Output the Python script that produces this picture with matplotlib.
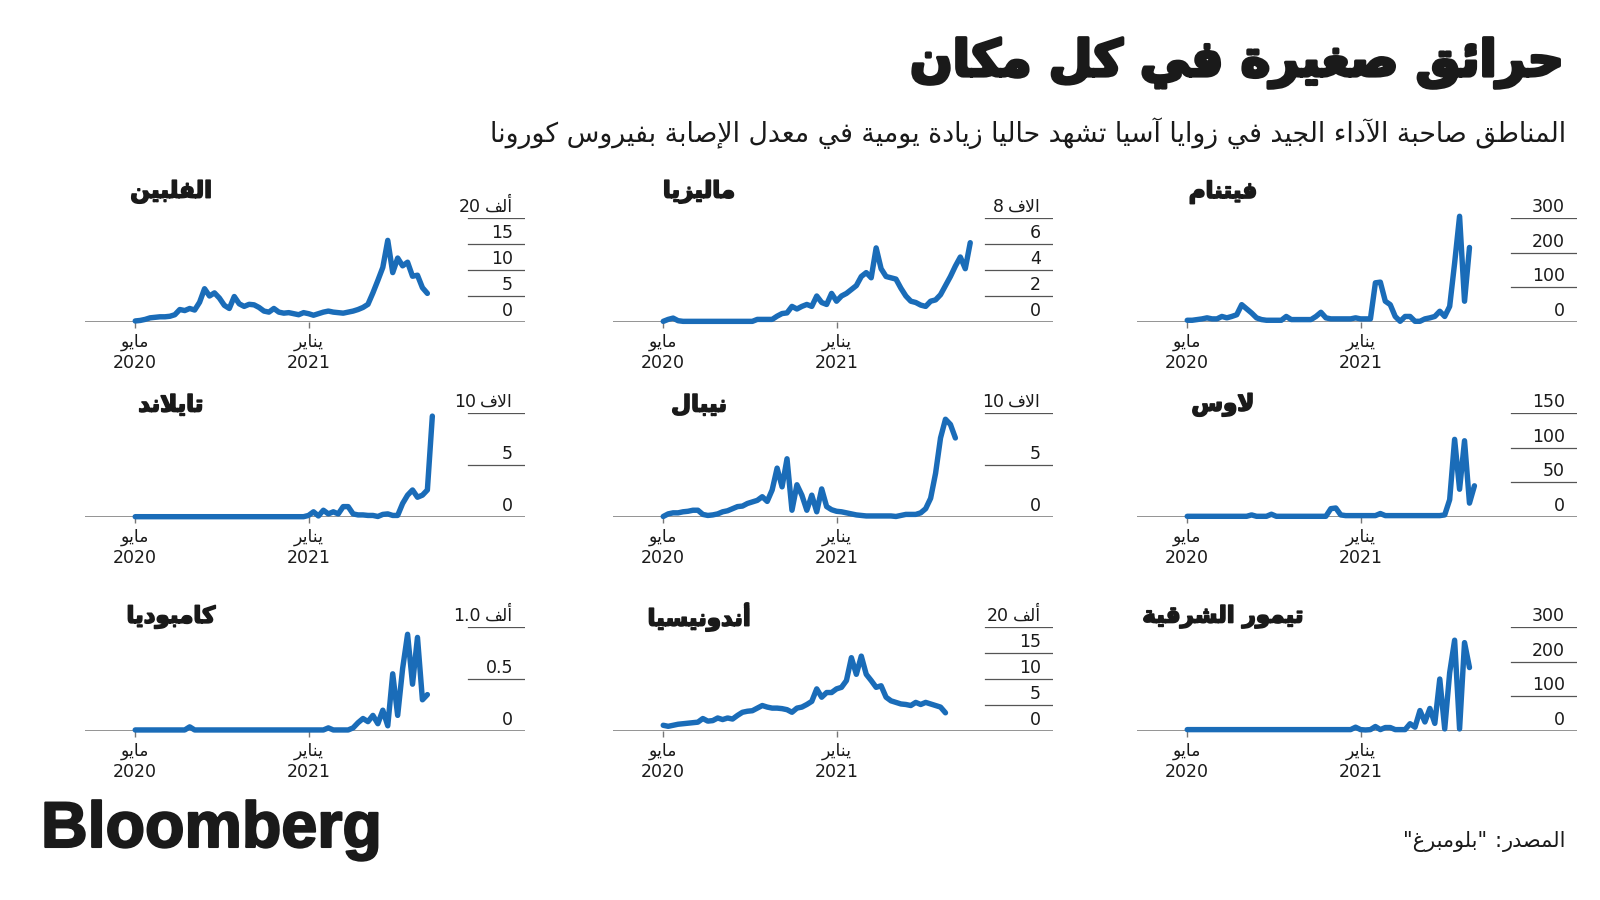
import numpy as np
import matplotlib
matplotlib.use('Agg')
import matplotlib.pyplot as plt
import matplotlib.dates as mdates
import matplotlib.transforms as mtransforms
import matplotlib.patheffects as pe
from matplotlib.text import Annotation

plt.rcParams['font.family'] = ['DejaVu Sans']

# region arabic shaping
# matplotlib has no text shaping, so letters are mapped to presentation forms
# and flipped to visual (left to right) order by hand.
AR_FORMS = {
    'ء': (0xFE80, 1), 'آ': (0xFE81, 2), 'أ': (0xFE83, 2), 'ؤ': (0xFE85, 2),
    'إ': (0xFE87, 2), 'ئ': (0xFE89, 4), 'ا': (0xFE8D, 2), 'ب': (0xFE8F, 4),
    'ة': (0xFE93, 2), 'ت': (0xFE95, 4), 'ث': (0xFE99, 4), 'ج': (0xFE9D, 4),
    'ح': (0xFEA1, 4), 'خ': (0xFEA5, 4), 'د': (0xFEA9, 2), 'ذ': (0xFEAB, 2),
    'ر': (0xFEAD, 2), 'ز': (0xFEAF, 2), 'س': (0xFEB1, 4), 'ش': (0xFEB5, 4),
    'ص': (0xFEB9, 4), 'ض': (0xFEBD, 4), 'ط': (0xFEC1, 4), 'ظ': (0xFEC5, 4),
    'ع': (0xFEC9, 4), 'غ': (0xFECD, 4), 'ف': (0xFED1, 4), 'ق': (0xFED5, 4),
    'ك': (0xFED9, 4), 'ل': (0xFEDD, 4), 'م': (0xFEE1, 4), 'ن': (0xFEE5, 4),
    'ه': (0xFEE9, 4), 'و': (0xFEED, 2), 'ى': (0xFEEF, 2), 'ي': (0xFEF1, 4),
}
LAM_ALEF = {'آ': 0xFEF5, 'أ': 0xFEF7, 'إ': 0xFEF9, 'ا': 0xFEFB}


def ar(text):
    def dual(ch):
        return ch in AR_FORMS and AR_FORMS[ch][1] == 4

    def joins_prev(ch):
        return ch in AR_FORMS and AR_FORMS[ch][1] >= 2

    out = []
    prev = None
    i, n = 0, len(text)
    while i < n:
        ch = text[i]
        if ch not in AR_FORMS:
            out.append(ch)
            prev = None
            i += 1
            continue
        link_prev = prev is not None and dual(prev)
        if ch == 'ل' and i + 1 < n and text[i + 1] in LAM_ALEF:
            out.append(chr(LAM_ALEF[text[i + 1]] + (1 if link_prev else 0)))
            prev = text[i + 1]
            i += 2
            continue
        base, nforms = AR_FORMS[ch]
        link_next = dual(ch) and i + 1 < n and joins_prev(text[i + 1])
        if nforms == 1:
            code = base
        elif nforms == 2:
            code = base + (1 if link_prev else 0)
        elif link_prev and link_next:
            code = base + 3
        elif link_prev:
            code = base + 1
        elif link_next:
            code = base + 2
        else:
            code = base
        out.append(chr(code))
        prev = ch
        i += 1
    return ''.join(reversed(out))
# endregion

# region data (weekly readings starting 1 May 2020)
philippines = [0.2, 0.3, 0.5, 0.8, 0.9, 1.0, 1.0, 1.1, 1.4, 2.4,
               2.2, 2.6, 2.3, 3.8, 6.4, 5.0, 5.6, 4.6, 3.2, 2.6,
               4.9, 3.5, 3.0, 3.4, 3.3, 2.8, 2.1, 1.9, 2.6, 1.9,
               1.7, 1.8, 1.6, 1.4, 1.8, 1.6, 1.3, 1.6, 1.9, 2.1,
               1.9, 1.8, 1.7, 1.9, 2.1, 2.4, 2.8, 3.4, 5.6, 8.0,
               10.5, 15.7, 9.5, 12.3, 10.8, 11.5, 8.8, 9.0, 6.6, 5.5]
malaysia = [0.05, 0.2, 0.3, 0.1, 0.05, 0.05, 0.05, 0.05, 0.05, 0.05,
            0.05, 0.05, 0.05, 0.05, 0.05, 0.05, 0.05, 0.05, 0.05, 0.2,
            0.2, 0.2, 0.2, 0.45, 0.65, 0.7, 1.2, 1.0, 1.2, 1.35,
            1.2, 2.0, 1.5, 1.35, 2.2, 1.6, 2.0, 2.2, 2.5, 2.8,
            3.5, 3.8, 3.4, 5.7, 4.1, 3.5, 3.4, 3.3, 2.6, 2.0,
            1.6, 1.5, 1.3, 1.2, 1.6, 1.7, 2.1, 2.8, 3.5, 4.3,
            5.0, 4.1, 6.1]
vietnam = [5, 5, 7, 9, 12, 9, 9, 16, 12, 16,
           21, 50, 38, 26, 12, 7, 5, 5, 5, 5,
           16, 7, 7, 7, 7, 7, 16, 28, 12, 9,
           9, 9, 9, 9, 12, 9, 9, 9, 113, 115,
           60, 50, 16, 2, 16, 16, 2, 2, 9, 12,
           16, 31, 16, 45, 170, 305, 60, 215]
thailand = [0.03, 0.03, 0.03, 0.03, 0.03, 0.03, 0.03, 0.03, 0.03, 0.03,
            0.03, 0.03, 0.03, 0.03, 0.03, 0.03, 0.03, 0.03, 0.03, 0.03,
            0.03, 0.03, 0.03, 0.03, 0.03, 0.03, 0.03, 0.03, 0.03, 0.03,
            0.03, 0.03, 0.03, 0.03, 0.03, 0.15, 0.5, 0.1, 0.65, 0.3,
            0.5, 0.3, 1.0, 1.0, 0.3, 0.2, 0.2, 0.15, 0.15, 0.05,
            0.25, 0.3, 0.15, 0.15, 1.3, 2.1, 2.6, 1.9, 2.1, 2.6,
            9.7]
nepal = [0.05, 0.3, 0.4, 0.4, 0.5, 0.55, 0.65, 0.65, 0.25, 0.15,
         0.2, 0.3, 0.5, 0.6, 0.8, 1.0, 1.05, 1.3, 1.45, 1.6,
         1.95, 1.5, 2.6, 4.7, 2.9, 5.6, 0.65, 3.1, 2.1, 0.65,
         2.1, 0.5, 2.7, 1.0, 0.7, 0.55, 0.5, 0.4, 0.3, 0.2,
         0.15, 0.1, 0.1, 0.1, 0.1, 0.1, 0.1, 0.05, 0.15, 0.25,
         0.25, 0.25, 0.4, 0.8, 1.8, 4.2, 7.6, 9.4, 8.9, 7.6]
laos = [1, 1, 1, 1, 1, 1, 1, 1, 1, 1,
        1, 1, 1, 3, 1, 1, 1, 4, 1, 1,
        1, 1, 1, 1, 1, 1, 1, 1, 1, 12,
        13, 3, 2, 2, 2, 2, 2, 2, 2, 5,
        2, 2, 2, 2, 2, 2, 2, 2, 2, 2,
        2, 2, 3, 25, 112, 40, 110, 20, 45]
cambodia = [0.01, 0.01, 0.01, 0.01, 0.01, 0.01, 0.01, 0.01, 0.01, 0.01,
            0.01, 0.04, 0.01, 0.01, 0.01, 0.01, 0.01, 0.01, 0.01, 0.01,
            0.01, 0.01, 0.01, 0.01, 0.01, 0.01, 0.01, 0.01, 0.01, 0.01,
            0.01, 0.01, 0.01, 0.01, 0.01, 0.01, 0.01, 0.01, 0.01, 0.03,
            0.01, 0.01, 0.01, 0.01, 0.03, 0.08, 0.12, 0.09, 0.15, 0.07,
            0.2, 0.05, 0.55, 0.15, 0.6, 0.93, 0.45, 0.9, 0.3, 0.35]
indonesia = [1.1, 0.9, 1.1, 1.3, 1.4, 1.5, 1.6, 1.7, 2.4, 1.9,
             2.0, 2.5, 2.2, 2.5, 2.3, 3.0, 3.6, 3.8, 3.9, 4.4,
             4.9, 4.6, 4.4, 4.4, 4.3, 4.1, 3.6, 4.4, 4.6, 5.1,
             5.7, 8.1, 6.5, 7.4, 7.4, 8.1, 8.4, 9.7, 14.1, 10.9,
             14.4, 10.9, 9.7, 8.4, 8.7, 6.5, 5.8, 5.5, 5.2, 5.1,
             4.9, 5.5, 5.1, 5.5, 5.2, 4.9, 4.6, 3.5]
timor = [4, 4, 4, 4, 4, 4, 4, 4, 4, 4,
         4, 4, 4, 4, 4, 4, 4, 4, 4, 4,
         4, 4, 4, 4, 4, 4, 4, 4, 4, 4,
         4, 4, 4, 4, 11, 4, 3, 4, 13, 4,
         10, 10, 4, 4, 4, 21, 11, 59, 26, 65,
         22, 150, 6, 168, 262, 6, 255, 183]

series = [philippines, malaysia, vietnam, thailand, nepal, laos,
          cambodia, indonesia, timor]
names = ['الفلبين', 'ماليزيا', 'فيتنام', 'تايلاند', 'نيبال', 'لاوس',
         'كامبوديا', 'أندونيسيا', 'تيمور الشرقية']
yticks = [[0, 5, 10, 15, 20], [0, 2, 4, 6, 8], [0, 100, 200, 300],
          [0, 5, 10], [0, 5, 10], [0, 50, 100, 150],
          [0, 0.5, 1.0], [0, 5, 10, 15, 20], [0, 100, 200, 300]]
ytick_labels = [['0', '5', '10', '15', '20'], ['0', '2', '4', '6', '8'],
                ['0', '100', '200', '300'], ['0', '5', '10'], ['0', '5', '10'],
                ['0', '50', '100', '150'], ['0', '0.5', '1.0'],
                ['0', '5', '10', '15', '20'], ['0', '100', '200', '300']]
top_units = ['ألف', 'الاف', '', 'الاف', 'الاف', '', 'ألف', 'ألف', '']

title = 'حرائق صغيرة في كل مكان'
subtitle = 'المناطق صاحبة الآداء الجيد في زوايا آسيا تشهد حاليا زيادة يومية في معدل الإصابة بفيروس كورونا'
source_word = 'المصدر'
source_name = 'بلومبرغ'
months = ['مايو', 'يناير']
years = ['2020', '2021']
# endregion

BLUE = '#1a6cb8'
INK = '#1a1a1a'
W, H = 1600, 900

col_left = [85, 613, 1137]
row_base = [322, 517, 731]
title_y = [192, 405, 617]
ax_w, ax_h = 440, 104
grid_start = [0.87, 0.846, 0.85]

start = np.datetime64('2020-05-01')
xlim = mdates.date2num([np.datetime64('2020-02-20'), np.datetime64('2021-11-03')])
xticks = mdates.date2num([np.datetime64('2020-05-01'), np.datetime64('2021-01-01')])
xtick_labels = [ar(m) + '\n' + y for m, y in zip(months, years)]

heavy = [pe.withStroke(linewidth=1.2, foreground=INK)]

fig = plt.figure(figsize=(16, 9), dpi=100)

for i, vals in enumerate(series):
    r, c = divmod(i, 3)
    ax = fig.add_axes([col_left[c] / W, 1 - row_base[r] / H, ax_w / W, ax_h / H])
    dates = mdates.date2num(start + np.arange(len(vals)) * 7)
    ax.plot(dates, vals, color=BLUE, lw=3.9, solid_joinstyle='round',
            solid_capstyle='round', clip_on=False, zorder=3)
    ax.set_xlim(*xlim)
    ax.set_ylim(0, yticks[i][-1])
    for s in ax.spines.values():
        s.set_visible(False)
    ax.axhline(0, color='#777777', lw=1.1, zorder=1)
    for v in yticks[i][1:]:
        ax.axhline(v, xmin=grid_start[c], xmax=1, color='#555555', lw=0.9, zorder=1)
    ax.set_yticks([])
    lab_tr = mtransforms.offset_copy(ax.get_yaxis_transform(), fig=fig, y=2, units='dots')
    labels = ytick_labels[i]
    for j, (v, lab) in enumerate(zip(yticks[i], labels)):
        if j == len(labels) - 1 and top_units[i]:
            # unit on the right, number placed to its left
            unit = ax.text(0.973, v, ar(top_units[i]), transform=lab_tr, ha='right',
                           va='bottom', fontsize=12.5, color=INK)
            ax.annotate(lab, xy=(0, 0), xycoords=unit, xytext=(-3, 0),
                        textcoords='offset points', ha='right', va='bottom',
                        fontsize=12.5, color=INK)
        else:
            ax.text(0.973, v, lab, transform=lab_tr, ha='right', va='bottom',
                    fontsize=12.5, color=INK)
    ax.set_xticks(xticks)
    ax.set_xticklabels(xtick_labels, fontsize=12.5, color=INK)
    ax.tick_params(axis='x', length=4, width=1, color='#777777', pad=4)
    fig.text((col_left[c] + 0.195 * ax_w) / W, 1 - title_y[r] / H, ar(names[i]),
             ha='center', va='center', fontsize=16.5, fontweight='bold', color=INK,
             path_effects=heavy)

fig.text(1564 / W, 1 - 63 / H, ar(title), ha='right', va='center',
         fontsize=36, fontweight='bold', color=INK,
         path_effects=[pe.withStroke(linewidth=2.5, foreground=INK)])
fig.text(1566 / W, 1 - 133 / H, ar(subtitle), ha='right', va='center',
         fontsize=19.3, color=INK)
fig.text(41 / W, 1 - 847 / H, 'Bloomberg', ha='left', va='baseline',
         fontsize=46.5, fontweight='bold', family='Liberation Sans', color=INK,
         path_effects=[pe.withStroke(linewidth=1.5, foreground=INK)])

# source line, pieces placed right to left
src = fig.text(1566 / W, 1 - 841 / H, ar(source_word), ha='right', va='center',
               fontsize=15, color=INK)
colon = fig.add_artist(Annotation(':', xy=(0, 0.5), xycoords=src, xytext=(-1, 0),
                                  textcoords='offset points', ha='right', va='center',
                                  fontsize=15, color=INK))
fig.add_artist(Annotation('"' + ar(source_name) + '"', xy=(0, 0.5), xycoords=colon,
                          xytext=(-5, 0), textcoords='offset points', ha='right',
                          va='center', fontsize=15, color=INK))

fig.savefig('out.png', dpi=100, facecolor='white')
